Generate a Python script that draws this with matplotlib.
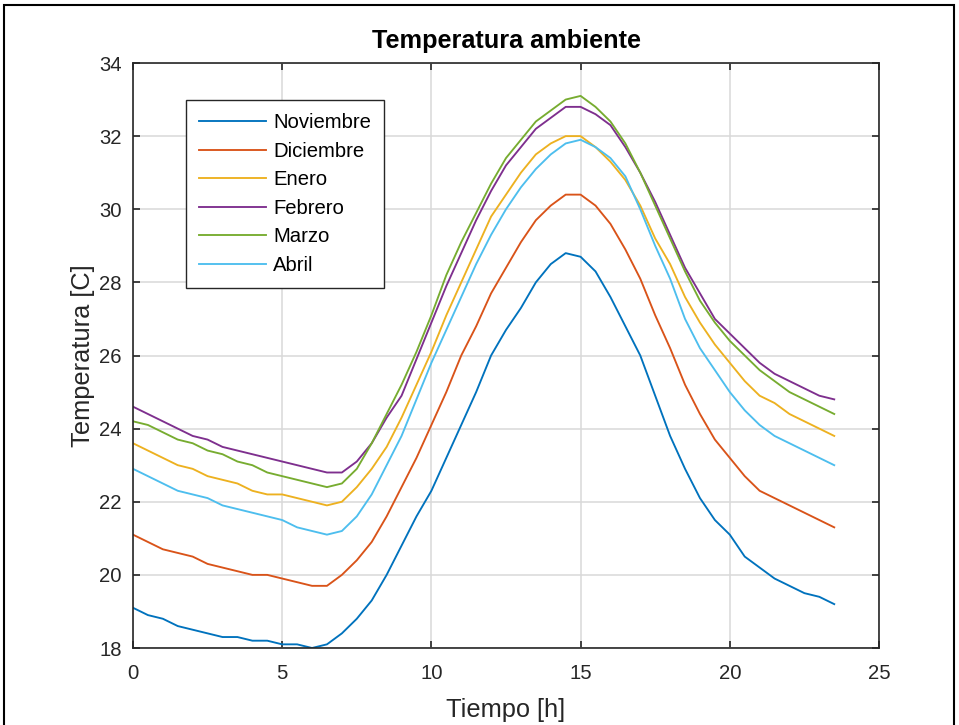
import matplotlib
matplotlib.use("Agg")
import matplotlib.pyplot as plt
from matplotlib.patches import Rectangle
import numpy as np

hours = np.arange(0, 24, 0.5)

noviembre = [19.1, 18.9, 18.8, 18.6, 18.5, 18.4, 18.3, 18.3, 18.2, 18.2, 18.1, 18.1, 18.0, 18.1, 18.4, 18.8,
             19.3, 20.0, 20.8, 21.6, 22.3, 23.2, 24.1, 25.0, 26.0, 26.7, 27.3, 28.0, 28.5, 28.8, 28.7, 28.3,
             27.6, 26.8, 26.0, 24.9, 23.8, 22.9, 22.1, 21.5, 21.1, 20.5, 20.2, 19.9, 19.7, 19.5, 19.4, 19.2]
diciembre = [21.1, 20.9, 20.7, 20.6, 20.5, 20.3, 20.2, 20.1, 20.0, 20.0, 19.9, 19.8, 19.7, 19.7, 20.0, 20.4,
             20.9, 21.6, 22.4, 23.2, 24.1, 25.0, 26.0, 26.8, 27.7, 28.4, 29.1, 29.7, 30.1, 30.4, 30.4, 30.1,
             29.6, 28.9, 28.1, 27.1, 26.2, 25.2, 24.4, 23.7, 23.2, 22.7, 22.3, 22.1, 21.9, 21.7, 21.5, 21.3]
enero = [23.6, 23.4, 23.2, 23.0, 22.9, 22.7, 22.6, 22.5, 22.3, 22.2, 22.2, 22.1, 22.0, 21.9, 22.0, 22.4,
         22.9, 23.5, 24.3, 25.2, 26.1, 27.1, 28.0, 28.9, 29.8, 30.4, 31.0, 31.5, 31.8, 32.0, 32.0, 31.7,
         31.3, 30.8, 30.1, 29.2, 28.5, 27.6, 26.9, 26.3, 25.8, 25.3, 24.9, 24.7, 24.4, 24.2, 24.0, 23.8]
febrero = [24.6, 24.4, 24.2, 24.0, 23.8, 23.7, 23.5, 23.4, 23.3, 23.2, 23.1, 23.0, 22.9, 22.8, 22.8, 23.1,
           23.6, 24.3, 24.9, 25.9, 26.9, 27.9, 28.8, 29.7, 30.5, 31.2, 31.7, 32.2, 32.5, 32.8, 32.8, 32.6,
           32.3, 31.7, 31.0, 30.2, 29.3, 28.4, 27.7, 27.0, 26.6, 26.2, 25.8, 25.5, 25.3, 25.1, 24.9, 24.8]
marzo = [24.2, 24.1, 23.9, 23.7, 23.6, 23.4, 23.3, 23.1, 23.0, 22.8, 22.7, 22.6, 22.5, 22.4, 22.5, 22.9,
         23.6, 24.4, 25.2, 26.1, 27.1, 28.2, 29.1, 29.9, 30.7, 31.4, 31.9, 32.4, 32.7, 33.0, 33.1, 32.8,
         32.4, 31.8, 31.0, 30.1, 29.2, 28.3, 27.5, 26.9, 26.4, 26.0, 25.6, 25.3, 25.0, 24.8, 24.6, 24.4]
abril = [22.9, 22.7, 22.5, 22.3, 22.2, 22.1, 21.9, 21.8, 21.7, 21.6, 21.5, 21.3, 21.2, 21.1, 21.2, 21.6,
         22.2, 23.0, 23.8, 24.8, 25.8, 26.7, 27.6, 28.5, 29.3, 30.0, 30.6, 31.1, 31.5, 31.8, 31.9, 31.7,
         31.4, 30.9, 30.0, 29.0, 28.1, 27.0, 26.2, 25.6, 25.0, 24.5, 24.1, 23.8, 23.6, 23.4, 23.2, 23.0]

series_names = ["Noviembre", "Diciembre", "Enero", "Febrero", "Marzo", "Abril"]
series_values = [noviembre, diciembre, enero, febrero, marzo, abril]
colors = ["#0072BD", "#D95319", "#EDB120", "#7E2F8E", "#77AC30", "#4DBEEE"]

x_ticks = [0, 5, 10, 15, 20, 25]
y_ticks = [18, 20, 22, 24, 26, 28, 30, 32, 34]

plt.rcParams['font.family'] = ['Liberation Sans', 'DejaVu Sans']

fig = plt.figure(figsize=(9.59, 7.25), dpi=100)
ax = fig.add_axes([133/959, 77/725, 746/959, 585/725])

for name, vals, c in zip(series_names, series_values, colors):
    ax.plot(hours, vals, color=c, lw=1.35, label=name)

ax.set_xlim(0, 25)
ax.set_ylim(18, 34)
ax.set_xticks(x_ticks)
ax.set_yticks(y_ticks)
ax.grid(True, color="#d9d9d9", lw=1.1)
ax.set_axisbelow(True)

dark = "#262626"
for s in ax.spines.values():
    s.set_color(dark)
    s.set_linewidth(1.2)
ax.tick_params(direction='in', length=5, width=1.2, colors=dark, labelsize=14.6,
               top=True, right=True)
ax.tick_params(axis='x', pad=11.5)
ax.tick_params(axis='y', pad=8)
for lab in ax.get_xticklabels() + ax.get_yticklabels():
    lab.set_color(dark)

ax.set_xlabel("Tiempo [h]", fontsize=18.3, color=dark, labelpad=11)
ax.set_ylabel("Temperatura [C]", fontsize=18.3, color=dark, labelpad=3)
ax.set_title("Temperatura ambiente", fontsize=18.2, fontweight='bold', color='black', pad=11)

leg = ax.legend(loc='upper left', bbox_to_anchor=((186-133)/746, (648-100)/585),
                borderaxespad=0, fontsize=14.6, frameon=True, fancybox=False,
                edgecolor=dark, framealpha=1, handlelength=3.3, handletextpad=0.35,
                labelspacing=0.47, borderpad=0.65)
leg.get_frame().set_linewidth(1.0)

fig.patches.append(Rectangle((4/959, -0.01), 950/959, 1 - 5/725 + 0.01, transform=fig.transFigure,
                             fill=False, edgecolor='black', lw=1.5, clip_on=False))

fig.savefig("out.png", dpi=100)
